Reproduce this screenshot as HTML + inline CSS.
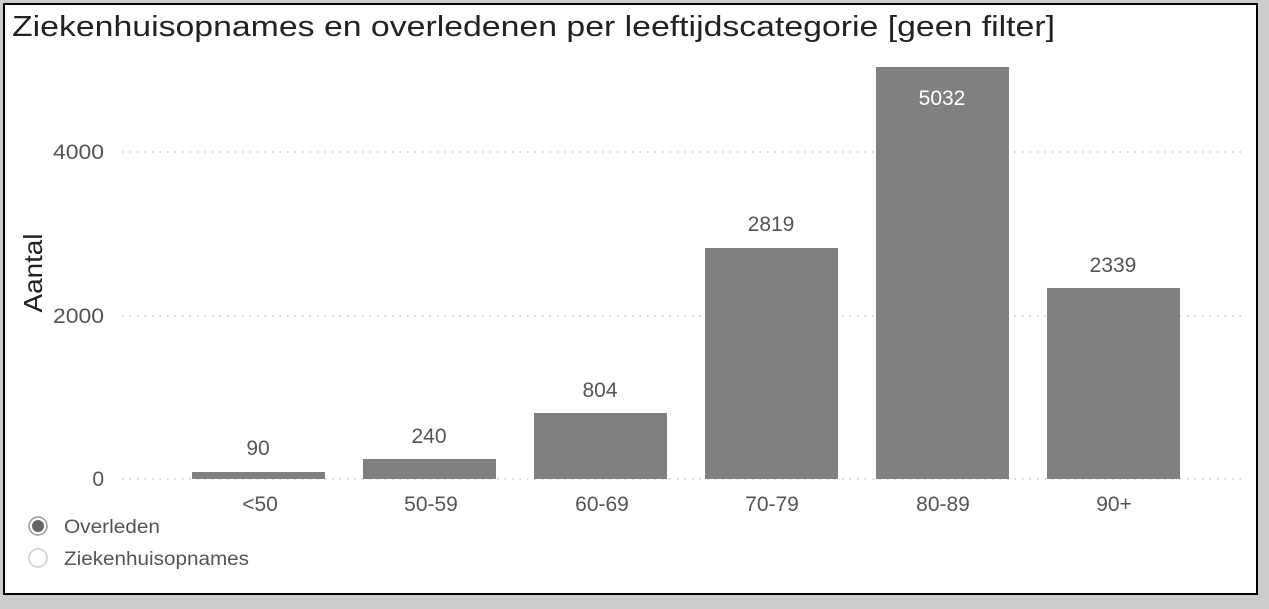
<!DOCTYPE html>
<html><head><style>
body{margin:0;width:1269px;height:609px;background:#cdcdcd;overflow:hidden;font-family:"Liberation Sans","DejaVu Sans",sans-serif}
#f{position:absolute;left:3px;top:3px;width:1251px;height:588px;border:2px solid #000;background:#fff}
</style></head><body>
<div id="f"></div>
<svg width="1269" height="609" style="position:absolute;left:0;top:0" font-family="Liberation Sans, DejaVu Sans, sans-serif">
<text x="12" y="36" font-size="29" fill="#222" textLength="1043" lengthAdjust="spacingAndGlyphs">Ziekenhuisopnames en overledenen per leeftijdscategorie [geen filter]</text>
<g stroke="#c8c8c8" stroke-width="1.5" stroke-dasharray="1.5,6">
<line x1="122" y1="152" x2="1245" y2="152"/>
<line x1="122" y1="316" x2="1245" y2="316"/>
<line x1="122" y1="479" x2="1245" y2="479"/>
</g>
<g font-size="21" fill="#555" text-anchor="end">
<text x="104" y="159" textLength="51" lengthAdjust="spacingAndGlyphs">4000</text>
<text x="104" y="323" textLength="51" lengthAdjust="spacingAndGlyphs">2000</text>
<text x="104" y="486">0</text>
</g>
<text transform="translate(42,273) rotate(-90)" font-size="26" fill="#222" text-anchor="middle" textLength="79" lengthAdjust="spacingAndGlyphs">Aantal</text>
<g fill="#808080">
<rect x="192" y="472" width="133" height="7"/>
<rect x="363" y="459" width="133" height="20"/>
<rect x="534" y="413" width="133" height="66"/>
<rect x="705" y="248" width="133" height="231"/>
<rect x="876" y="67" width="133" height="412"/>
<rect x="1047" y="288" width="133" height="191"/>
</g>
<g font-size="21" fill="#555" text-anchor="middle">
<text x="258" y="455">90</text>
<text x="429" y="443">240</text>
<text x="600" y="397">804</text>
<text x="771" y="231">2819</text>
<text x="942" y="105" fill="#fff">5032</text>
<text x="1113" y="272">2339</text>
<text x="260" y="511">&lt;50</text>
<text x="431" y="511">50-59</text>
<text x="602" y="511">60-69</text>
<text x="772" y="511">70-79</text>
<text x="943" y="511">80-89</text>
<text x="1114" y="511">90+</text>
</g>
<circle cx="38" cy="526" r="9" fill="#fff" stroke="#999" stroke-width="1.5"/>
<circle cx="38" cy="526" r="6" fill="#666"/>
<circle cx="38" cy="558" r="9" fill="#fff" stroke="#ccc" stroke-width="1.5"/>
<g font-size="19" fill="#555">
<text x="64" y="533" textLength="96" lengthAdjust="spacingAndGlyphs">Overleden</text>
<text x="64" y="565" textLength="185" lengthAdjust="spacingAndGlyphs">Ziekenhuisopnames</text>
</g>
</svg>
</body></html>
